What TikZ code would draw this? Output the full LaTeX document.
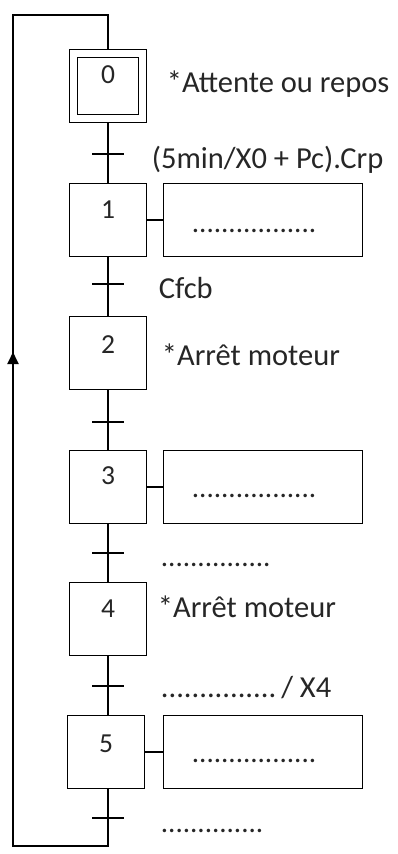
\documentclass[tikz,border=0pt]{standalone}
\usepackage{fontspec}
\setmainfont{Carlito}
\usetikzlibrary{arrows.meta}
\begin{document}
\begin{tikzpicture}[x=1pt,y=-1pt,
  line width=1.8pt,
  stepbox/.style={draw, line width=1.8pt, minimum width=77pt, minimum height=73pt, inner sep=0pt},
  actbox/.style={draw, line width=1.8pt, minimum width=199pt, minimum height=73pt, inner sep=0pt},
  lbl/.style={anchor=base west, inner sep=0pt, text=black!85, font=\fontsize{30.5}{32}\selectfont},
  dots/.style={anchor=base west, inner sep=0pt, text=black!85, font=\fontsize{29}{30}\selectfont},
  num/.style={anchor=base, inner sep=0pt, text=black!85, font=\fontsize{27.5}{28}\selectfont},
  tick/.style={line width=1.8pt}]
\useasboundingbox[fill=white] (0,0) rectangle (398,854);
% steps
\node[stepbox] (s0) at (108,86) {};
\node[draw, line width=1.8pt, minimum width=61pt, minimum height=57pt, inner sep=0pt] (s0i) at (108,86) {};
\node[stepbox] (s1) at (108,220) {};
\node[stepbox] (s2) at (108,353) {};
\node[stepbox] (s3) at (108,487) {};
\node[stepbox] (s4) at (108,619) {};
\node[stepbox] (s5) at (106,752) {};
% step numbers
\node[num] (n0) at (108,83) {0};
\node[num] (n1) at (108,218) {1};
\node[num] (n2) at (108,353) {2};
\node[num] (n3) at (108,484) {3};
\node[num] (n4) at (108,617) {4};
\node[num] (n5) at (106,752) {5};
% action boxes
\node[actbox] (a1) at (263,220) {};
\node[actbox] (a3) at (263,487) {};
\node[actbox] (a5) at (263,752) {};
\draw (s1.east) -- (a1.west);
\draw (s3.east) -- (a3.west);
\draw (s5.east) -- (a5.west);
\node[dots] (d1) at (191,232) {.................};
\node[dots] (d3) at (191,497) {.................};
\node[dots] (d5) at (191,762) {.................};
% action texts
\node[lbl] (x0) at (166,92) {*Attente ou repos};
\node[lbl] (x2) at (161,365) {*Arrêt moteur};
\node[lbl] (x4) at (157,617) {*Arrêt moteur};
% links
\draw (s0.south) -- (s1.north);
\draw (s1.south) -- (s2.north);
\draw (s2.south) -- (s3.north);
\draw (s3.south) -- (s4.north);
\draw (s4.south) -- (s5.north -| s4.south);
% transitions
\coordinate (t1) at (108,154);
\coordinate (t2) at (108,284);
\coordinate (t3) at (108,422);
\coordinate (t4) at (108,553);
\coordinate (t5) at (108,686);
\coordinate (t6) at (108,818);
\foreach \t in {t1,t2,t3,t4,t5,t6}
  \draw[tick] ([xshift=-16pt]\t) -- ([xshift=16pt]\t);
\node[lbl] (c1) at (151,168) {(5min/X0 + Pc).Crp};
\node[lbl] (c2) at (158,298) {Cfcb};
\node[dots] (c4) at (160,566) {...............};
\node[lbl] (c5) at (160,697) {...............\,/ X4};
\node[dots] (c6) at (160,832) {..............};
% loop back
\coordinate (b) at (108,846);
\coordinate (bl) at (13,846);
\coordinate (tl) at (13,15);
\coordinate (tr) at (108,15);
\coordinate (ar) at (13,352);
\draw (s5.south -| s4.south) -- (b) -- (bl) -- (tl) -- (tr) -- (s0.north);
\draw[-{Triangle[length=12pt,width=11pt]}] (bl) -- (ar);
\end{tikzpicture}
\end{document}
